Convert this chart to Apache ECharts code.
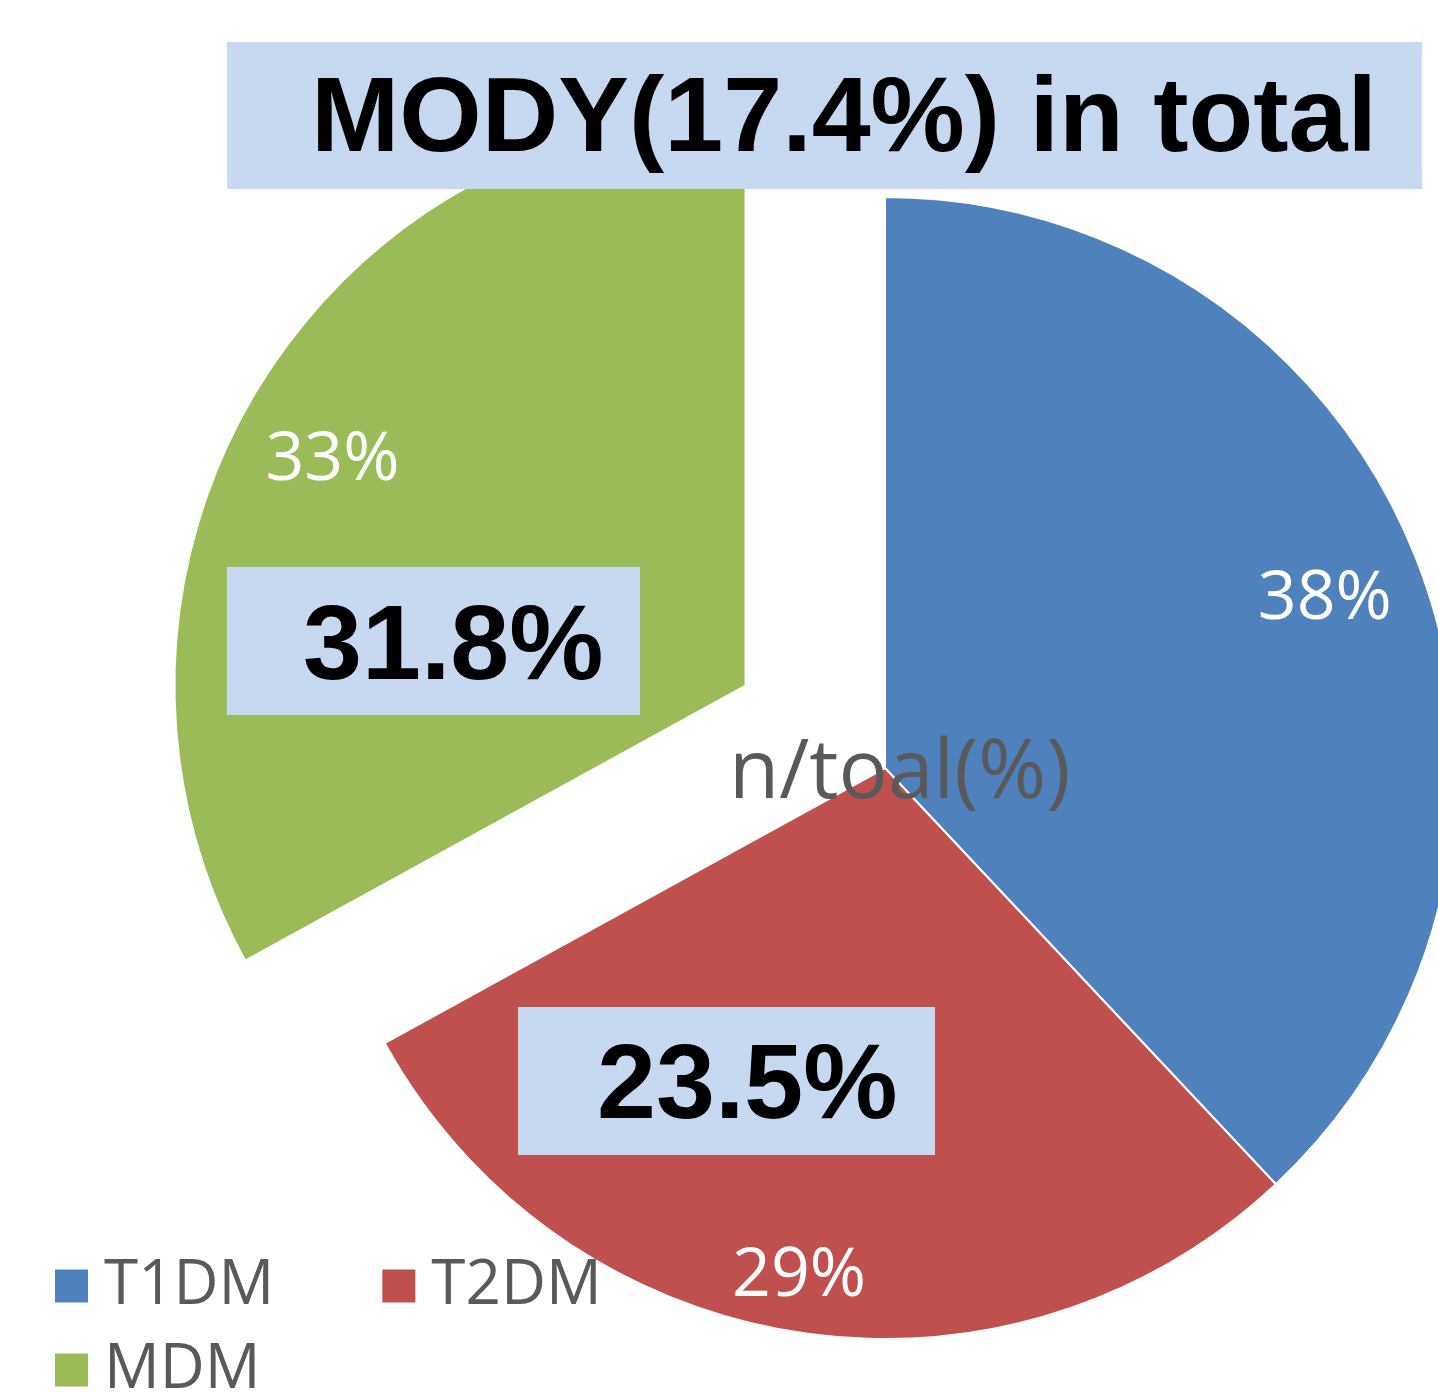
<!DOCTYPE html>
<html>
<head>
<meta charset="utf-8">
<title>n/toal(%)</title>
<script src="https://cdn.jsdelivr.net/npm/echarts@6/dist/echarts.min.js"></script>
<style>
  html, body { margin: 0; padding: 0; background: #fff; }
  #main { width: 1438px; height: 1392px; }
</style>
</head>
<body>
<div id="main"></div>
<script>
// data
const categories = ['T1DM', 'T2DM', 'MDM'];
const shares = [38, 29, 33];
const sliceColors = ['#4F81BD', '#C0504D', '#9BBB59'];
const explodedCategory = 'MDM';
const chartTitle = 'n/toal(%)';
const calloutTexts = ['MODY(17.4%) in total', '31.8%', '23.5%'];

// pie geometry
const pieCenter = [885, 768];
const pieRadius = 571;
const explodeOffset = 162;
// 每个百分比标签的微调
const labelNudge = { T1DM: [0, 6], T2DM: [-12, 41], MDM: [-6, 16] };

const chart = echarts.init(document.getElementById('main'));

// 主饼图
const pieData = categories.map((name, i) => ({
  name: name,
  value: shares[i],
  selected: name === explodedCategory,
  itemStyle: { color: sliceColors[i] }
}));

// 标签层：透明的环，用来把百分比放到靠外的位置
const labelData = categories.map((name, i) => ({
  name: name,
  value: shares[i],
  selected: name === explodedCategory,
  itemStyle: { color: 'rgba(0,0,0,0)' },
  label: { offset: labelNudge[name] },
  select: { label: { offset: labelNudge[name] } }
}));

const boxFill = '#C6D9F1';
const calloutFont = 'bold 106px "Liberation Sans", Arial, sans-serif';
const legendText = {
  fontFamily: '"Open Sans", sans-serif',
  fontSize: 62,
  color: '#595959',
  padding: [0, 0, 0, 10]
};

const option = {
  animation: false,
  title: {
    text: chartTitle,
    left: 724,
    top: 729,
    textStyle: {
      fontFamily: '"Open Sans", sans-serif',
      fontWeight: 'normal',
      fontSize: 82,
      color: '#595959'
    }
  },
  legend: [
    {
      data: categories.slice(0, 2),
      left: 48,
      top: 1250,
      icon: 'rect',
      itemWidth: 35,
      itemHeight: 35,
      itemGap: 106,
      selectedMode: false,
      textStyle: legendText
    },
    {
      data: categories.slice(2),
      left: 48,
      top: 1334,
      icon: 'rect',
      itemWidth: 35,
      itemHeight: 35,
      selectedMode: false,
      textStyle: legendText
    }
  ],
  series: [
    {
      type: 'pie',
      center: pieCenter,
      radius: [0, pieRadius],
      startAngle: 90,
      clockwise: true,
      selectedMode: 'single',
      selectedOffset: explodeOffset,
      silent: true,
      itemStyle: { borderColor: '#fff', borderWidth: 2 },
      select: { itemStyle: { borderColor: '#fff', borderWidth: 2 } },
      emphasis: { scale: false },
      label: { show: false },
      labelLine: { show: false },
      data: pieData
    },
    {
      type: 'pie',
      center: pieCenter,
      radius: [369, pieRadius],
      startAngle: 90,
      clockwise: true,
      selectedMode: 'single',
      selectedOffset: explodeOffset,
      silent: true,
      itemStyle: { borderWidth: 0 },
      select: { itemStyle: { borderWidth: 0 } },
      emphasis: { scale: false },
      label: {
        show: true,
        position: 'inside',
        formatter: '{d}%',
        color: '#fff',
        fontFamily: '"Open Sans", sans-serif',
        fontSize: 68
      },
      labelLine: { show: false },
      data: labelData
    }
  ],
  graphic: [
    // 顶部说明框
    { type: 'rect', z: 100, shape: { x: 227, y: 42, width: 1195, height: 147 }, style: { fill: boxFill } },
    { type: 'text', z: 101, x: 311, y: 122, style: { text: calloutTexts[0], font: calloutFont, fill: '#000', verticalAlign: 'middle' } },
    // MDM 说明框
    { type: 'rect', z: 100, shape: { x: 227, y: 567, width: 413, height: 148 }, style: { fill: boxFill } },
    { type: 'text', z: 101, x: 303, y: 650, style: { text: calloutTexts[1], font: calloutFont, fill: '#000', verticalAlign: 'middle' } },
    // T2DM 说明框
    { type: 'rect', z: 100, shape: { x: 518, y: 1007, width: 417, height: 148 }, style: { fill: boxFill } },
    { type: 'text', z: 101, x: 597, y: 1089, style: { text: calloutTexts[2], font: calloutFont, fill: '#000', verticalAlign: 'middle' } }
  ]
};

chart.setOption(option);
</script>
</body>
</html>
